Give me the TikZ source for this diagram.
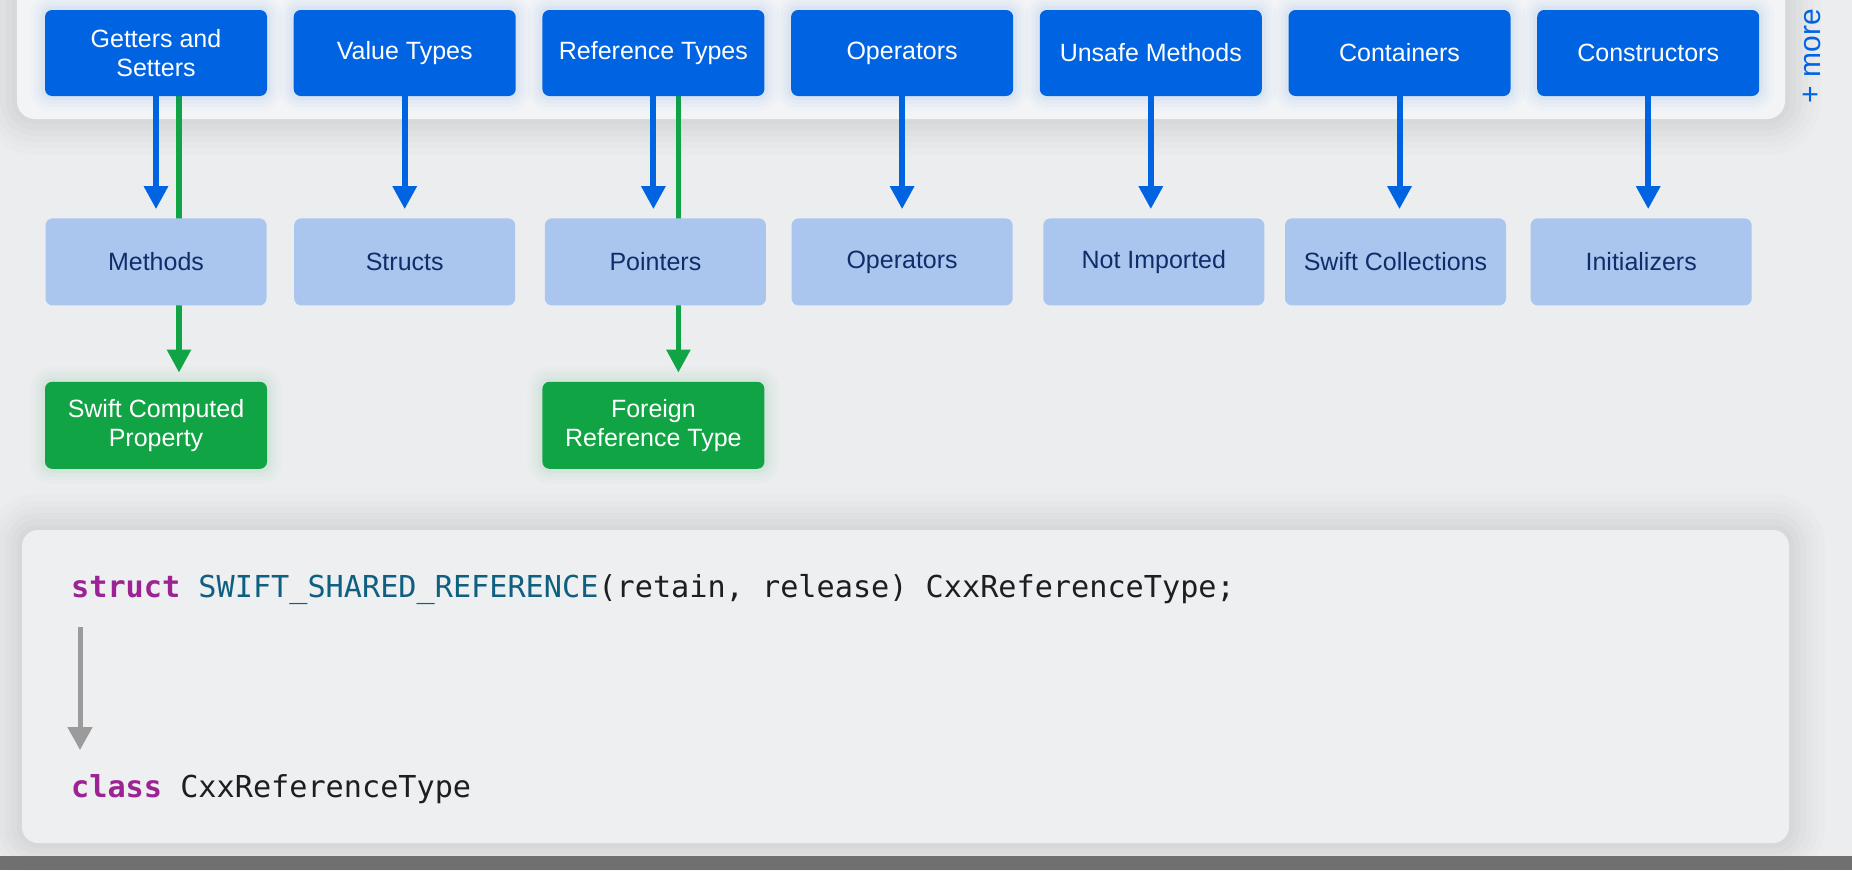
\documentclass[tikz,border=0pt]{standalone}
\usepackage{fontspec}
\setmainfont{Liberation Sans}
\setmonofont{DejaVu Sans Mono}
\usepackage{xcolor}
\usetikzlibrary{arrows.meta, positioning, backgrounds}
\definecolor{pagebg}{HTML}{ECEDEF}
\definecolor{panelfill}{HTML}{F3F4F6}
\definecolor{codefill}{HTML}{EEEFF1}
\definecolor{featfill}{HTML}{0063E1}
\definecolor{mapfill}{HTML}{AAC6EE}
\definecolor{maptext}{HTML}{0F2D6B}
\definecolor{swfill}{HTML}{11A444}
\definecolor{arrgray}{HTML}{9B9B9B}
\definecolor{kwcol}{HTML}{9B2393}
\definecolor{macrocol}{HTML}{0F5F80}
\definecolor{codetext}{HTML}{1E1E1E}
\definecolor{barfill}{HTML}{6F706F}
\tikzset{
  haze/.style n args={3}{preaction={draw=#1, draw opacity=#3, line width=#2}},
  blk/.style={rectangle, rounded corners=7pt, align=center, font=\fontsize{25}{28.5}\selectfont, inner sep=4pt, minimum width=222pt, minimum height=86pt},
  feat/.style={blk, fill=featfill, text=white, haze={featfill}{30pt}{0.02}, haze={featfill}{22pt}{0.02}, haze={featfill}{15pt}{0.025}, haze={featfill}{8pt}{0.03}},
  mapped/.style={blk, fill=mapfill, text=maptext, minimum width=221pt, minimum height=87pt},
  swift/.style={blk, fill=swfill, text=white, minimum height=87pt, haze={swfill}{30pt}{0.02}, haze={swfill}{22pt}{0.02}, haze={swfill}{15pt}{0.025}, haze={swfill}{8pt}{0.03}},
  panel/.style={fill=panelfill, rounded corners=18pt, haze={black}{72pt}{0.01}, haze={black}{58pt}{0.012}, haze={black}{46pt}{0.012}, haze={black}{34pt}{0.014}, haze={black}{22pt}{0.014}, haze={black}{10pt}{0.016}},
  more/.style={font=\fontsize{30}{32}\selectfont, text=featfill, rotate=90, inner sep=0pt},
  code/.style={font=\fontsize{30.2}{36}\selectfont\ttfamily, text=codetext, inner sep=0pt, anchor=base west},
  arr/.style={-{Triangle[length=23pt, width=23pt]}, line width=6pt, draw=featfill, shorten >=9pt},
  arrgreen/.style={arr, draw=swfill, line width=5.5pt},
  arrcode/.style={-{Triangle[length=23pt, width=24pt]}, line width=5pt, draw=arrgray},
}
\begin{document}
\begin{tikzpicture}[x=1pt, y=-1pt, node distance=26.3pt]
  \useasboundingbox (0,0) rectangle (1852,870);
  \begin{scope}[on background layer]
    \fill[pagebg] (0,0) rectangle (1852,870);
    \fill[panel] (17,-40) rectangle (1785,119);
    \fill[panel, fill=codefill, rounded corners=16pt] (22,530) rectangle (1789,843);
    \fill[barfill] (0,856) rectangle (1852,870);
  \end{scope}
  % C++ features
  \node[feat] (getters) at (156,53) {Getters and\\Setters};
  \node[feat, right=of getters] (valtypes) {Value Types};
  \node[feat, right=of valtypes] (reftypes) {Reference Types};
  \node[feat, right=of reftypes] (operators) {Operators};
  \node[feat, right=of operators] (unsafe) {Unsafe Methods};
  \node[feat, right=of unsafe] (containers) {Containers};
  \node[feat, right=of containers] (ctors) {Constructors};
  \node[more] (more) at ([xshift=53pt, yshift=-3pt]ctors.east) {+ more};
  % imported as
  \node[mapped, below=122pt of getters] (methods) {Methods};
  \node[mapped, below=122pt of valtypes] (structs) {Structs};
  \node[mapped, below=122pt of reftypes, xshift=2pt] (pointers) {Pointers};
  \node[mapped, below=122pt of operators] (swiftops) {Operators};
  \node[mapped, below=122pt of unsafe, xshift=3pt] (notimported) {Not Imported};
  \node[mapped, below=122pt of containers, xshift=-4pt] (collections) {Swift Collections};
  \node[mapped, below=122pt of ctors, xshift=-7pt] (inits) {Initializers};
  % new mappings
  \node[swift, below=76pt of methods] (compprop) {Swift Computed\\Property};
  \node[swift, below=76pt of pointers, xshift=-2pt] (foreignref) {Foreign\\Reference Type};
  \draw[arr] (getters.south) -- (getters.south |- methods.north);
  \draw[arr] (valtypes.south) -- (valtypes.south |- structs.north);
  \draw[arr] (reftypes.south) -- (reftypes.south |- pointers.north);
  \draw[arr] (operators.south) -- (operators.south |- swiftops.north);
  \draw[arr] (unsafe.south) -- (unsafe.south |- notimported.north);
  \draw[arr] (containers.south) -- (containers.south |- collections.north);
  \draw[arr] (ctors.south) -- (ctors.south |- inits.north);
  \begin{scope}[on background layer]
    \draw[arrgreen] ([xshift=23pt]getters.south) -- ([xshift=23pt]getters.south |- compprop.north);
    \draw[arrgreen] ([xshift=25pt]reftypes.south) -- ([xshift=25pt]reftypes.south |- foreignref.north);
  \end{scope}
  % code sample
  \node[code] (decl) at (71,597) {\textcolor{kwcol}{\bfseries struct} \textcolor{macrocol}{SWIFT\_SHARED\_REFERENCE}(retain, release) CxxReferenceType;};
  \node[code] (cls) at (71,797) {\textcolor{kwcol}{\bfseries class} CxxReferenceType};
  \draw[arrcode] ([xshift=9pt, yshift=-30pt]decl.base west) -- ([xshift=9pt, yshift=47pt]cls.base west);
\end{tikzpicture}
\end{document}
